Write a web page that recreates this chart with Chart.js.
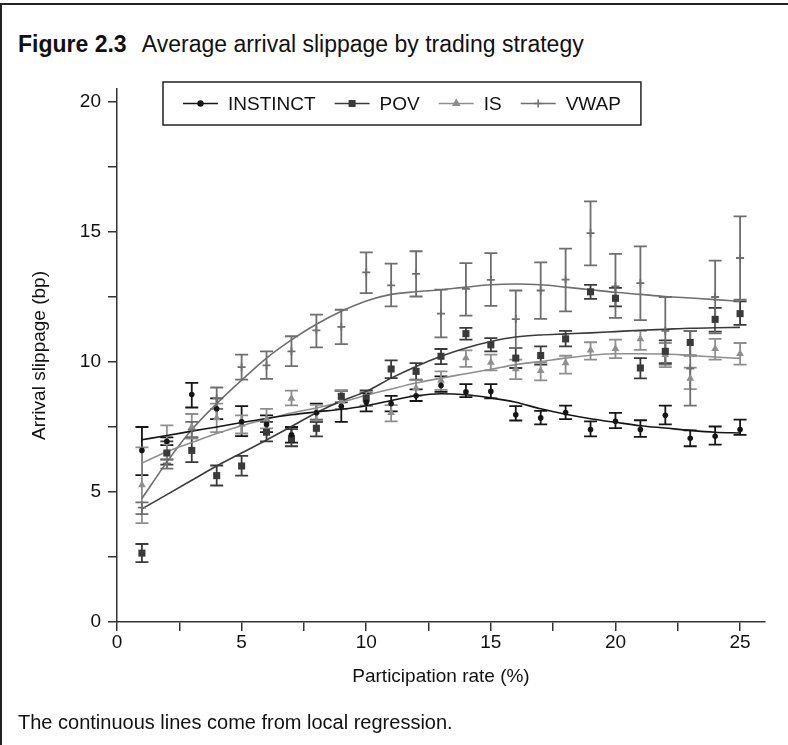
<!DOCTYPE html>
<html>
<head>
<meta charset="utf-8">
<script src="https://cdn.jsdelivr.net/npm/chart.js@4.4.1/dist/chart.umd.min.js"></script>
<style>
  body { margin: 0; background: #fff; }
  #fig { position: relative; width: 788px; height: 745px; overflow: hidden;
         font-family: "Liberation Sans", Arial, Helvetica, sans-serif; color: #111; }
  #frame { position: absolute; left: 0; top: 3px; width: 790px; height: 750px;
           border-top: 2px solid #222; border-left: 2px solid #222; }
  #title { position: absolute; left: 18px; top: 33px; font-size: 23px; line-height: 23px; white-space: nowrap; }
  #title b { margin-right: 10px; }
  #caption { position: absolute; left: 18px; top: 712px; font-size: 20px; line-height: 20px; white-space: nowrap; }
  #chart { position: absolute; left: 0; top: 0; }
</style>
</head>
<body>
<div id="fig">
  <div id="frame"></div>
  <div id="title"><b>Figure 2.3</b> Average arrival slippage by trading strategy</div>
  <canvas id="chart" width="788" height="745"></canvas>
  <div id="caption">The continuous lines come from local regression.</div>
</div>
<script>
// participation rate buckets (%)
const rates = [1, 2, 3, 4, 5, 6, 7, 8, 9, 10, 11, 12, 13, 14, 15, 16, 17, 18, 19, 20, 21, 22, 23, 24, 25];

// INSTINCT: mean slippage, interval bounds, loess fit
const instinctMean = [6.6, 6.95, 8.75, 8.2, 7.7, 7.6, 7.2, 8.05, 8.3, 8.45, 8.4, 8.7, 9.1, 8.85, 8.87, 7.97, 7.85, 8.06, 7.4, 7.72, 7.4, 7.95, 7.07, 7.14, 7.4];
const instinctLow  = [5.65, 6.8, 8.25, 7.8, 7.15, 7.3, 6.9, 7.7, 7.7, 8.1, 8.1, 8.5, 8.85, 8.65, 8.6, 7.75, 7.6, 7.8, 7.14, 7.46, 7.12, 7.6, 6.76, 6.82, 7.2];
const instinctHigh = [7.5, 7.1, 9.2, 8.6, 8.3, 7.95, 7.5, 8.4, 8.9, 8.8, 8.7, 8.95, 9.45, 9.15, 9.15, 8.3, 8.12, 8.32, 7.72, 8.04, 7.76, 8.32, 7.37, 7.52, 7.78];
const instinctFit  = [7.01, 7.17, 7.34, 7.5, 7.67, 7.83, 7.97, 8.08, 8.18, 8.32, 8.52, 8.7, 8.78, 8.74, 8.62, 8.45, 8.2, 7.99, 7.82, 7.68, 7.55, 7.46, 7.37, 7.3, 7.27];

// POV
const povMean = [2.65, 6.5, 6.6, 5.63, 6.0, 7.3, 7.05, 7.45, 8.68, 8.62, 9.73, 9.64, 10.22, 11.09, 10.66, 10.15, 10.25, 10.89, 12.7, 12.45, 9.77, 10.41, 10.75, 11.64, 11.86];
const povLow  = [2.3, 6.05, 6.15, 5.25, 5.63, 6.95, 6.76, 7.14, 8.45, 8.32, 9.38, 9.32, 9.92, 10.86, 10.41, 9.77, 9.9, 10.6, 12.43, 12.14, 9.37, 9.96, 10.25, 11.17, 11.43];
const povHigh = [3.0, 6.95, 7.1, 6.02, 6.39, 7.7, 7.42, 7.78, 8.9, 8.91, 10.06, 9.96, 10.5, 11.31, 10.92, 10.54, 10.6, 11.2, 12.97, 12.85, 10.15, 10.83, 11.2, 12.08, 12.33];
const povFit  = [4.35, 4.9, 5.45, 6.0, 6.5, 7.0, 7.52, 8.05, 8.5, 8.87, 9.38, 9.83, 10.22, 10.54, 10.79, 10.96, 11.04, 11.08, 11.12, 11.17, 11.22, 11.26, 11.3, 11.32, 11.33];

// IS
const isMean = [5.27, 6.88, 7.5, 7.85, 7.6, 7.8, 8.6, 8.1, 8.5, 8.55, 8.05, 9.0, 9.29, 10.15, 9.98, 9.73, 9.66, 9.96, 10.45, 10.51, 10.88, 10.28, 9.37, 10.51, 10.32];
const isLow  = [3.8, 6.25, 7.05, 7.3, 7.25, 7.45, 8.33, 7.75, 8.2, 8.3, 7.72, 8.7, 8.93, 9.81, 9.68, 9.34, 9.29, 9.55, 10.09, 10.15, 10.47, 9.8, 8.96, 10.09, 9.9];
const isHigh = [6.72, 7.56, 8.0, 8.4, 7.95, 8.2, 8.9, 8.35, 8.9, 8.85, 8.34, 9.3, 9.64, 10.45, 10.28, 10.09, 9.98, 10.24, 10.76, 10.86, 11.2, 10.73, 9.78, 10.89, 10.73];
const isFit  = [6.11, 6.55, 6.9, 7.25, 7.55, 7.8, 8.04, 8.23, 8.45, 8.72, 8.96, 9.19, 9.38, 9.55, 9.72, 9.9, 10.02, 10.15, 10.26, 10.32, 10.32, 10.31, 10.25, 10.19, 10.14];

// VWAP
const vwapMean = [4.4, 6.1, 7.4, 8.6, 9.8, 9.87, 10.41, 11.22, 11.35, 13.45, 12.95, 13.39, 11.86, 12.81, 13.16, 11.65, 12.75, 13.17, 14.96, 12.91, 13.03, 11.2, 9.75, 12.5, 14.0];
const vwapLow  = [4.15, 5.9, 7.1, 8.2, 9.32, 9.35, 9.84, 10.56, 10.69, 12.65, 12.14, 12.52, 10.95, 11.78, 12.16, 10.54, 11.66, 11.95, 13.72, 11.7, 11.61, 9.9, 8.32, 11.1, 12.4];
const vwapHigh = [4.6, 6.25, 7.7, 9.02, 10.28, 10.41, 10.99, 11.82, 12.01, 14.22, 13.78, 14.26, 12.78, 13.8, 14.19, 12.75, 13.83, 14.36, 16.18, 14.16, 14.45, 12.5, 11.2, 13.9, 15.6];
const vwapFit  = [4.75, 6.15, 7.4, 8.4, 9.3, 10.15, 10.85, 11.45, 11.95, 12.35, 12.6, 12.7, 12.78, 12.88, 12.97, 13.0, 12.97, 12.88, 12.78, 12.68, 12.6, 12.52, 12.46, 12.4, 12.33];

// axis ticks
const xTicks = [0, 5, 10, 15, 20, 25];
const yTicks = [0, 5, 10, 15, 20];

const FONT = '"Liberation Sans", Arial, Helvetica, sans-serif';
Chart.defaults.font.family = FONT;
Chart.defaults.color = '#111';

const series = [
  { name: 'INSTINCT', mean: instinctMean, lo: instinctLow, hi: instinctHigh, fit: instinctFit,
    color: '#151515', style: 'circle', r: 2.8, legendR: 2.4 },
  { name: 'POV', mean: povMean, lo: povLow, hi: povHigh, fit: povFit,
    color: '#3a3a3a', style: 'rect', r: 5, legendR: 3.8 },
  { name: 'IS', mean: isMean, lo: isLow, hi: isHigh, fit: isFit,
    color: '#8e8e8e', style: 'triangle', r: 4.5, legendR: 3.5 },
  { name: 'VWAP', mean: vwapMean, lo: vwapLow, hi: vwapHigh, fit: vwapFit,
    color: '#6e6e6e', style: 'cross', r: 4, legendR: 4 }
];

const toPoints = arr => rates.map((x, i) => ({ x: x, y: arr[i] }));

const datasets = [];
series.forEach(s => {
  datasets.push({
    label: s.name + ' fit', data: toPoints(s.fit), borderColor: s.color, borderWidth: 1.6,
    pointRadius: 0, cubicInterpolationMode: 'monotone', fill: false, order: 2
  });
  datasets.push({
    label: s.name, data: toPoints(s.mean), showLine: false, pointStyle: s.style, pointRadius: s.r,
    backgroundColor: s.color, borderColor: s.color, borderWidth: s.style === 'cross' ? 1.8 : 0, order: 1
  });
});

// vertical interval bars with caps, under the markers
const errorBars = {
  id: 'errorBars',
  beforeDatasetsDraw(chart) {
    const { ctx, scales: { x, y } } = chart;
    ctx.save();
    ctx.lineWidth = 1.8;
    series.forEach(s => {
      ctx.strokeStyle = s.color;
      rates.forEach((v, i) => {
        const px = x.getPixelForValue(v);
        const top = y.getPixelForValue(s.hi[i]);
        const bot = y.getPixelForValue(s.lo[i]);
        ctx.beginPath();
        ctx.moveTo(px, top); ctx.lineTo(px, bot);
        ctx.moveTo(px - 6.5, top); ctx.lineTo(px + 6.5, top);
        ctx.moveTo(px - 6.5, bot); ctx.lineTo(px + 6.5, bot);
        ctx.stroke();
      });
    });
    ctx.restore();
  }
};

// boxed legend with line + marker samples
const boxLegend = {
  id: 'boxLegend',
  afterDraw(chart, args, opts) {
    const ctx = chart.ctx;
    ctx.save();
    ctx.font = '19px ' + FONT;
    ctx.textBaseline = 'middle';
    const midY = opts.y + opts.h / 2;
    let cx = opts.x + 20;
    series.forEach(s => {
      ctx.strokeStyle = s.color;
      ctx.lineWidth = 1.6;
      ctx.beginPath();
      ctx.moveTo(cx, midY); ctx.lineTo(cx + 35, midY);
      ctx.stroke();
      ctx.fillStyle = s.color;
      Chart.helpers.drawPoint(ctx, { pointStyle: s.style, radius: s.legendR, rotation: 0, borderWidth: 1.4 }, cx + 17.5, midY);
      if (s.style !== 'cross') ctx.fill();
      ctx.fillStyle = '#111';
      ctx.fillText(s.name, cx + 45, midY + 1);
      cx += 45 + ctx.measureText(s.name).width + 19;
    });
    ctx.strokeStyle = '#222';
    ctx.lineWidth = 1.5;
    ctx.strokeRect(opts.x, opts.y, cx - 19 + 20 - opts.x, opts.h);
    ctx.restore();
  }
};

const axisTicks = (vals) => (v) => vals.includes(v) ? String(v) : '';

new Chart(document.getElementById('chart'), {
  type: 'line',
  data: { datasets: datasets },
  plugins: [errorBars, boxLegend],
  options: {
    responsive: false,
    animation: false,
    devicePixelRatio: 1,
    layout: { padding: { left: 0, top: 89, right: 23, bottom: 43 } },
    plugins: {
      legend: { display: false },
      tooltip: { enabled: false },
      boxLegend: { x: 163, y: 82, h: 43 }
    },
    scales: {
      x: {
        type: 'linear', min: 0, max: 26,
        afterFit(scale) { scale.height = 80; },
        ticks: { stepSize: 2.5, includeBounds: false, autoSkip: false, maxRotation: 0, padding: 0,
                 color: '#111', font: { size: 19 }, callback: axisTicks(xTicks) },
        grid: { drawOnChartArea: false, drawTicks: true, tickLength: 9, color: '#333', lineWidth: 1.5 },
        border: { color: '#333', width: 1.5 },
        title: { display: true, text: 'Participation rate (%)', color: '#111', font: { size: 19 },
                 padding: { top: 0, bottom: 14 } }
      },
      y: {
        type: 'linear', min: 0, max: 20.5,
        afterFit(scale) { scale.width = 117; },
        ticks: { stepSize: 2.5, includeBounds: false, autoSkip: false, padding: 7,
                 color: '#111', font: { size: 19 }, callback: axisTicks(yTicks) },
        grid: { drawOnChartArea: false, drawTicks: true, tickLength: 9, color: '#333', lineWidth: 1.5 },
        border: { color: '#333', width: 1.5 },
        title: { display: true, text: 'Arrival slippage (bp)', color: '#111', font: { size: 19 },
                 padding: { top: 28.6, bottom: 0 } }
      }
    }
  }
});
</script>
</body>
</html>
